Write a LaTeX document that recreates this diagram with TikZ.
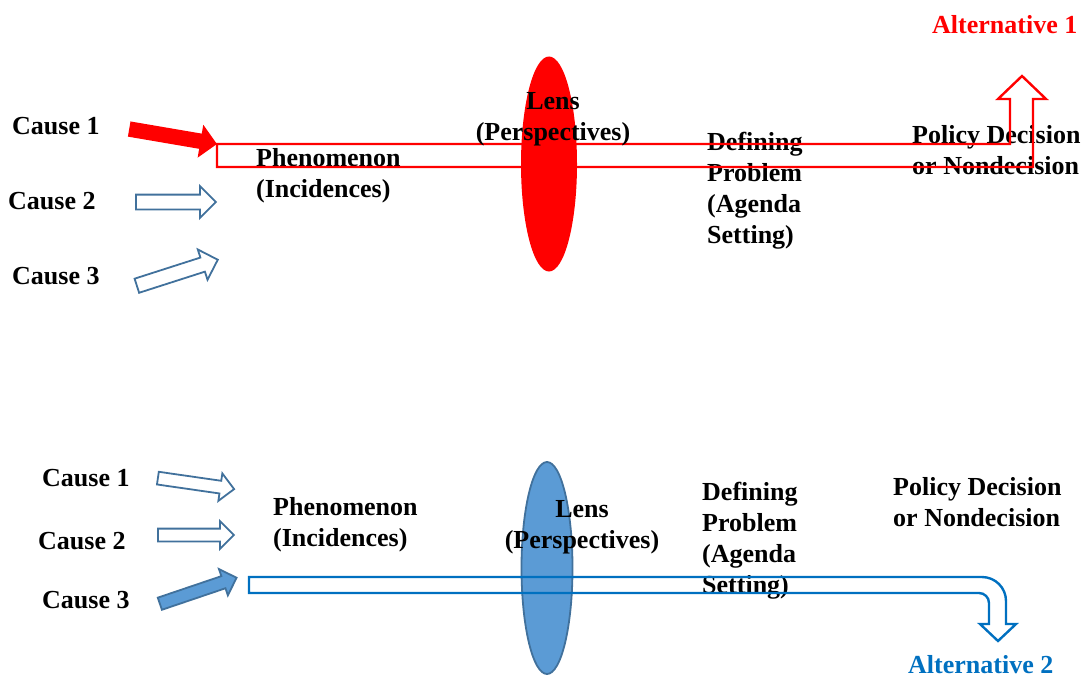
\documentclass[tikz,border=0pt]{standalone}
\usepackage{fontspec}
\setmainfont{Liberation Serif}
\usetikzlibrary{shapes.geometric, shapes.arrows}

\begin{document}
\begin{tikzpicture}[x=1pt, y=-1pt,
    txt/.style={font=\fontsize{26}{31}\selectfont\bfseries, inner sep=0pt, align=left, anchor=north west},
    lenstxt/.style={txt, align=center, anchor=north},
    topcause/.style={single arrow, inner xsep=0pt, inner ysep=6.5pt, anchor=tail, single arrow head extend=8.5pt},
    botcause/.style={single arrow, inner xsep=0pt, inner ysep=5.5pt, anchor=tail, single arrow head extend=7.5pt},
    hollow/.style={draw=causeblue, fill=white, line width=1.8pt},
    lens/.style={ellipse, inner sep=0pt}]
        % Define colors
        \definecolor{causeblue}{RGB}{65,113,156}
        \definecolor{lensblue}{RGB}{91,155,213}
        \definecolor{bandblue}{RGB}{0,112,192}

        \useasboundingbox (0,0) rectangle (1086,677);

        % Top: cause 1 taken
        \node[txt] (causeA1) at (12,117) {Cause 1};
        \node[txt] (causeA2) at (8,192) {Cause 2};
        \node[txt] (causeA3) at (12,267) {Cause 3};
        \node[topcause, fill=red, inner ysep=7.5pt, single arrow head extend=9pt, minimum height=89pt, rotate=-9.7] (arrA1) at (129,129) {};
        \node[topcause, hollow, minimum height=80pt] (arrA2) at (135,202) {};
        \node[topcause, hollow, minimum height=85pt, rotate=17.8] (arrA3) at (136,286) {};

        \node[txt] (phenA) at (256,148) {Phenomenon\\(Incidences)};
        \node[txt] (defA) at (707,132) {Defining\\Problem\\(Agenda\\Setting)};
        \node[txt] (policyA) at (912,125) {Policy Decision\\or Nondecision};
        \node[txt, text=red] (altA) at (932,15) {Alternative 1};

        \draw[red, line width=2.4pt] (217,144) -- (1010,144) -- (1010,99) -- (998,99) -- (1022,76)
            -- (1046,99) -- (1033,99) -- (1033,167) -- (217,167) -- cycle;

        \node[lens, fill=red, minimum width=56pt, minimum height=215pt] (lensA) at (549,164) {};
        \node[lenstxt] (lensAtxt) at (553,92) {Lens\\(Perspectives)};

        % Bottom: cause 3 taken
        \node[lens, fill=lensblue, draw=causeblue, line width=1.8pt, minimum width=51pt, minimum height=212pt] (lensB) at (547,568) {};
        \node[lenstxt] (lensBtxt) at (582,500) {Lens\\(Perspectives)};

        \node[txt] (causeB1) at (42,469) {Cause 1};
        \node[txt] (causeB2) at (38,532) {Cause 2};
        \node[txt] (causeB3) at (42,591) {Cause 3};
        \node[botcause, hollow, minimum height=77pt, rotate=-8.2] (arrB1) at (157,478) {};
        \node[botcause, hollow, minimum height=76pt] (arrB2) at (157,535) {};
        \node[botcause, hollow, fill=lensblue, minimum height=81pt, rotate=18.7] (arrB3) at (159,604) {};

        \node[txt] (phenB) at (273,497) {Phenomenon\\(Incidences)};
        \node[txt] (defB) at (702,482) {Defining\\Problem\\(Agenda\\Setting)};
        \node[txt] (policyB) at (893,477) {Policy Decision\\or Nondecision};
        \node[txt, text=bandblue] (altB) at (908,655) {Alternative 2};

        \draw[bandblue, line width=2.4pt] (249,577) -- (982,577) arc[start angle=-90, end angle=0, radius=24]
            -- (1006,624) -- (1016,624) -- (998,641) -- (980,624) -- (989,624) -- (989,603)
            arc[start angle=0, end angle=-90, radius=10] -- (249,593) -- cycle;
    \end{tikzpicture}
\end{document}
